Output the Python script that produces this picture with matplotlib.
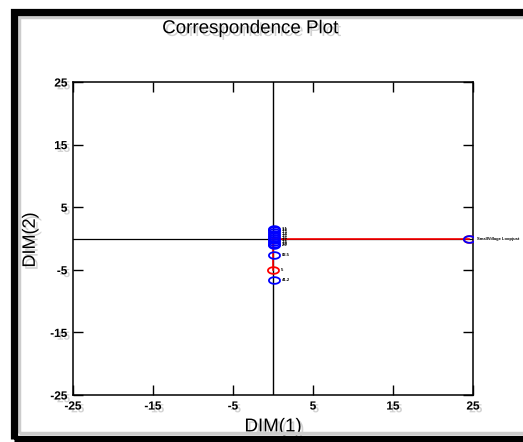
import numpy as np
import matplotlib.pyplot as plt
import matplotlib.patheffects as pe
from matplotlib.patches import Rectangle

# row points (blue) and column points (red)
row_x = [0.1, 0.1, 0.1, 0.1, 0.1, 0.1, 0.1, 0.1, 0.1, 0.1, 0.1, 0.1, 24.5]
row_y = [1.6, 1.3, 1.0, 0.7, 0.4, 0.1, -0.2, -0.5, -0.8, -1.0, -2.6, -6.6, 0.0]
row_lab = ["1.1", "1.2", "1.3", "1.4", "1.5", "1.6", "1.7", "1.8", "1.9", "2.0",
           "83.5", "41.2", "SmallVillage Loopjust"]
col_x = [0.0, 24.5]
col_y = [-5.0, 0.0]
col_lab = ["5", ""]

ticks = [-25, -15, -5, 5, 15, 25]

plt.rcParams['font.family'] = ['Liberation Sans', 'DejaVu Sans']
shadow = [pe.SimplePatchShadow(offset=(2, -2), shadow_rgbFace='gray', alpha=0.35), pe.Normal()]

fig = plt.figure(figsize=(5.23, 4.42), dpi=100)
ax = fig.add_axes([0.1396, 0.1063, 0.7648, 0.708])

# ellipse marker
t = np.linspace(0, 2 * np.pi, 40)
ell = list(zip(np.cos(t), 0.6 * np.sin(t)))

ax.axhline(0, color='black', lw=0.9, zorder=1)
ax.axvline(0, color='black', lw=1, zorder=1)
for x, y in zip(col_x, col_y):
    ax.plot([0, x], [0, y], color='red', lw=1.2, zorder=2)
ax.plot(col_x, col_y, ls='none', marker=ell, ms=8, mfc='none', mec='red', mew=1.3, zorder=3)
ax.plot(row_x, row_y, ls='none', marker=ell, ms=8, mfc='none', mec='blue', mew=1.3, zorder=4)

for x, y, s in zip(row_x, row_y, row_lab):
    ax.text(x + 1.0, y, s, fontsize=3, fontweight='bold', va='center', ha='left',
            clip_on=False, zorder=5)
for x, y, s in zip(col_x, col_y, col_lab):
    ax.text(x + 1.0, y, s, fontsize=3, fontweight='bold', va='center', ha='left',
            clip_on=False, zorder=5)

ax.set_xlim(-25, 25)
ax.set_ylim(-25, 25)
ax.set_xticks(ticks)
ax.set_yticks(ticks)
ax.set_xticklabels([str(v) for v in ticks])
ax.set_yticklabels([str(v) for v in ticks])
ax.tick_params(direction='in', length=7, width=1, top=True, right=True,
               labelsize=8.5, pad=4)
for lab in ax.get_xticklabels() + ax.get_yticklabels():
    lab.set_fontweight('bold')
    lab.set_path_effects(shadow)
for sp in ax.spines.values():
    sp.set_linewidth(1.1)

fig.text(0.478, 0.935, "Correspondence Plot", fontsize=13.5, ha='center', va='center',
         path_effects=shadow)
fig.text(0.522, 0.034, "DIM(1)", fontsize=13.5, ha='center', va='center',
         path_effects=shadow)
fig.text(0.058, 0.457, "DIM(2)", fontsize=13, ha='center', va='center', rotation=90,
         path_effects=shadow)

# black frame around the figure
fig.patches.append(Rectangle((13.5 / 523, 3.5 / 442), 1.2, 427 / 442, transform=fig.transFigure,
                             fill=False, ec='black', lw=5.2, zorder=10))
fig.patches.append(Rectangle((19 / 523, 9 / 442), 1.2, 416 / 442, transform=fig.transFigure,
                             fill=False, ec='#cccccc', lw=2.5, zorder=9))

fig.savefig("out.png", dpi=100)
